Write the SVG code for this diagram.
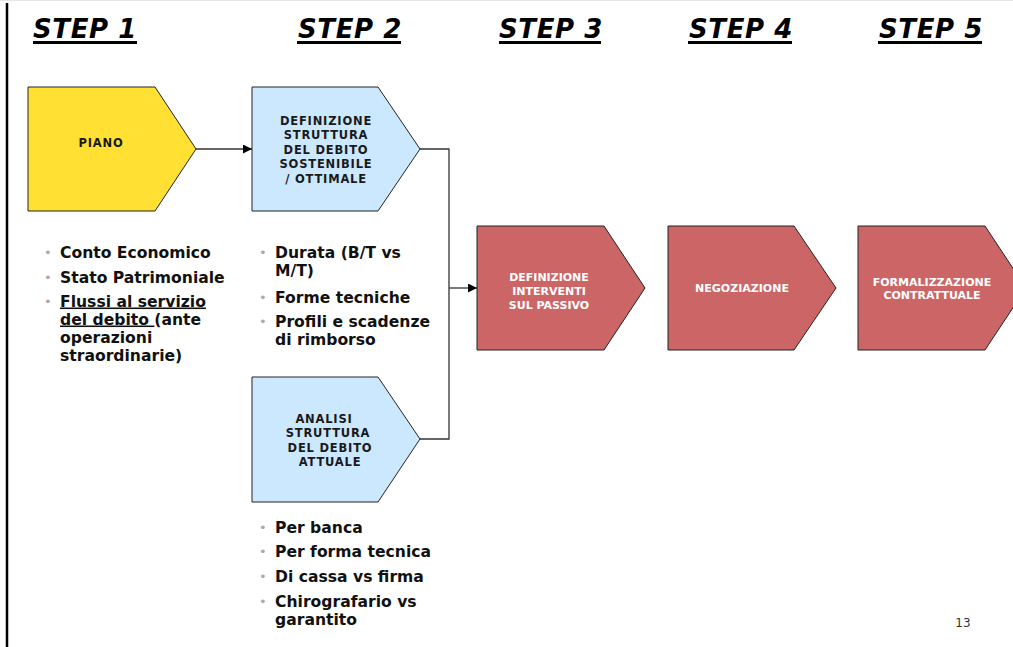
<svg xmlns="http://www.w3.org/2000/svg" width="1013" height="647" viewBox="0 0 1013 647">
<style>
.step{font-family:"DejaVu Sans",Verdana,sans-serif;font-weight:bold;font-style:italic;font-size:26px;letter-spacing:0.6px;fill:#000}
.ul{fill:#000}
.lbl{font-family:"DejaVu Sans",Verdana,sans-serif;font-weight:bold;font-size:11.5px;letter-spacing:0.8px;fill:#1a1a1a;text-anchor:middle}
.lblw{font-family:"DejaVu Sans",Verdana,sans-serif;font-weight:bold;font-size:11px;fill:#fff;text-anchor:middle}
.yellow{fill:#FFE033;stroke:#222;stroke-width:1}
.blue{fill:#CCE8FF;stroke:#222;stroke-width:1}
.red{fill:#CC6666;stroke:#222;stroke-width:1}
.bt{font-family:"DejaVu Sans",Verdana,sans-serif;font-weight:bold;font-size:15.6px;fill:#111}
.dot{fill:#aaa;font-family:"DejaVu Sans",sans-serif;font-size:13px}
.conn{fill:none;stroke:#333;stroke-width:1.3}
.pg{font-family:"DejaVu Sans",Verdana,sans-serif;font-size:12px;fill:#333;text-anchor:middle}
</style>
<defs>
<marker id="ah" viewBox="0 0 10 10" refX="10" refY="5" markerWidth="10" markerHeight="9" markerUnits="userSpaceOnUse" orient="auto">
<path d="M0,0 L10,5 L0,10 z" fill="#000"/>
</marker>
</defs>
<rect width="1013" height="647" fill="#fff"/>
<line x1="0" y1="0.5" x2="1013" y2="0.5" stroke="#e4e4e4" stroke-width="1"/>
<line x1="7" y1="3" x2="7" y2="647" stroke="#000" stroke-width="2.5"/>

<g id="headings">
<text class="step" x="33" y="38">STEP 1</text><rect class="ul" x="33" y="41" width="104" height="3"/>
<text class="step" x="298" y="38">STEP 2</text><rect class="ul" x="297" y="41" width="104" height="3"/>
<text class="step" x="499" y="38">STEP 3</text><rect class="ul" x="499" y="41" width="102" height="3"/>
<text class="step" x="689" y="38">STEP 4</text><rect class="ul" x="688" y="41" width="104" height="3"/>
<text class="step" x="879" y="38">STEP 5</text><rect class="ul" x="878" y="41" width="104" height="3"/>
</g>

<g id="connectors">
<line class="conn" x1="196" y1="149" x2="252" y2="149" marker-end="url(#ah)"/>
<polyline class="conn" points="420,149 449,149 449,439 420,439"/>
<line class="conn" x1="449" y1="288" x2="477" y2="288" marker-end="url(#ah)"/>
</g>

<g id="piano">
<polygon class="yellow" points="28,87 155,87 196,149 155,211 28,211"/>
<text class="lbl" x="101" y="147">PIANO</text>
</g>

<g id="definizione-struttura">
<polygon class="blue" points="252,87 378,87 420,149 378,211 252,211"/>
<text class="lbl" x="326" y="125">DEFINIZIONE</text>
<text class="lbl" x="326" y="139">STRUTTURA</text>
<text class="lbl" x="326" y="154">DEL DEBITO</text>
<text class="lbl" x="326" y="168">SOSTENIBILE</text>
<text class="lbl" x="326" y="183">/ OTTIMALE</text>
</g>

<g id="analisi-struttura">
<polygon class="blue" points="252,377 378,377 420,439 378,502 252,502"/>
<text class="lbl" x="324" y="423">ANALISI</text>
<text class="lbl" x="328" y="437">STRUTTURA</text>
<text class="lbl" x="330" y="452">DEL DEBITO</text>
<text class="lbl" x="330" y="466">ATTUALE</text>
</g>

<g id="definizione-interventi">
<polygon class="red" points="477,226 604,226 645,288 604,350 477,350"/>
<text class="lblw" x="549" y="281">DEFINIZIONE</text>
<text class="lblw" x="549" y="295">INTERVENTI</text>
<text class="lblw" x="549" y="309">SUL PASSIVO</text>
</g>

<g id="negoziazione">
<polygon class="red" points="668,226 794,226 836,288 794,350 668,350"/>
<text class="lblw" x="742" y="292">NEGOZIAZIONE</text>
</g>

<g id="formalizzazione">
<polygon class="red" points="858,226 985,226 1026,288 985,350 858,350"/>
<text class="lblw" x="932" y="286">FORMALIZZAZIONE</text>
<text class="lblw" x="932" y="299">CONTRATTUALE</text>
</g>

<g id="bullets-step1">
<text class="dot" x="44" y="257">•</text>
<text class="bt" x="60" y="257.5">Conto Economico</text>
<text class="dot" x="44" y="282">•</text>
<text class="bt" x="60" y="282.5">Stato Patrimoniale</text>
<text class="dot" x="44" y="306">•</text>
<text class="bt" x="60" y="306.5"><tspan text-decoration="underline">Flussi al servizio</tspan></text>
<text class="bt" x="60" y="324.5"><tspan text-decoration="underline">del debito </tspan>(ante</text>
<text class="bt" x="60" y="342.5">operazioni</text>
<text class="bt" x="60" y="360.5">straordinarie)</text>
</g>

<g id="bullets-step2">
<text class="dot" x="259" y="257">•</text>
<text class="bt" x="275" y="257.5">Durata (B/T vs</text>
<text class="bt" x="275" y="275.5">M/T)</text>
<text class="dot" x="259" y="302">•</text>
<text class="bt" x="275" y="302.5">Forme tecniche</text>
<text class="dot" x="259" y="326">•</text>
<text class="bt" x="275" y="326.5">Profili e scadenze</text>
<text class="bt" x="275" y="345">di rimborso</text>
</g>

<g id="bullets-analisi">
<text class="dot" x="259" y="532">•</text>
<text class="bt" x="275" y="532.5">Per banca</text>
<text class="dot" x="259" y="556">•</text>
<text class="bt" x="275" y="556.5">Per forma tecnica</text>
<text class="dot" x="259" y="581">•</text>
<text class="bt" x="275" y="581.5">Di cassa vs firma</text>
<text class="dot" x="259" y="606">•</text>
<text class="bt" x="275" y="606.5">Chirografario vs</text>
<text class="bt" x="275" y="624.5">garantito</text>
</g>

<text class="pg" x="963" y="627">13</text>
</svg>
